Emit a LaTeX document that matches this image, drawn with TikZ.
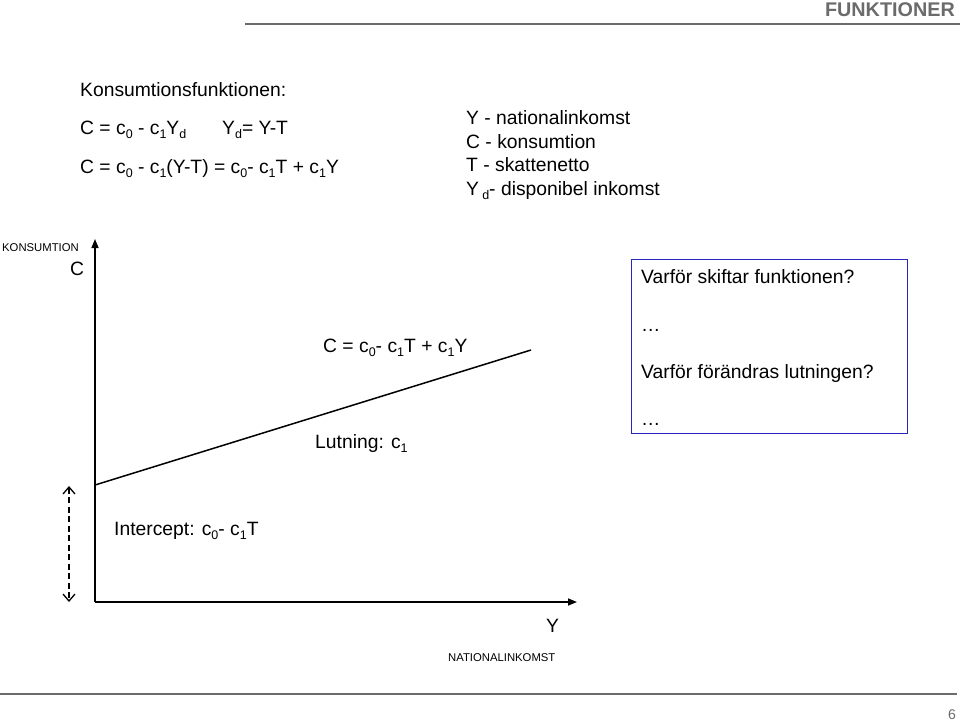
\documentclass[tikz,border=0pt]{standalone}
\usepackage{fontspec}
\setmainfont{Liberation Sans}
\usetikzlibrary{arrows.meta}

\definecolor{framegray}{gray}{0.42}
\definecolor{boxblue}{RGB}{40,40,190}
\newcommand\sub[1]{\raisebox{-0.22em}{\fontsize{12.5}{14}\selectfont #1}}

\tikzset{
  txt/.style={anchor=base west,inner sep=0pt,font=\fontsize{19.3}{23}\selectfont},
  smalltxt/.style={anchor=base west,inner sep=0pt,font=\fontsize{11.3}{13}\selectfont},
  axis/.style={line width=1.5pt,-{Triangle[length=9pt,width=7pt]}},
  barb/.tip={Straight Barb[length=7pt,width=12pt,line width=1.3pt]},
}

\begin{document}
\begin{tikzpicture}[x=1pt,y=-1pt]
  \useasboundingbox (0,0) rectangle (960,721);
  % header and footer
  \node[anchor=base east,inner sep=0pt,text=framegray,font=\fontsize{19.8}{23}\selectfont\bfseries] (title) at (955,16) {FUNKTIONER};
  \coordinate (hl) at (245,24);
  \coordinate (hr) at (960,24);
  \draw[framegray,line width=2pt] (hl) -- (hr);
  \coordinate (fl) at (0,694);
  \coordinate (fr) at (957,694);
  \draw[framegray,line width=2pt] (fl) -- (fr);
  \node[anchor=base east,inner sep=0pt,text=framegray,font=\fontsize{14}{16}\selectfont] (page) at (956,719) {6};

  % equations
  \node[txt] (head) at (80,96) {Konsumtionsfunktionen:};
  \node[txt] (eq1) at (80,134) {C = c\sub0 - c\sub1Y\sub d};
  \node[txt] (eqyd) at (222,134) {Y\sub d= Y-T};
  \node[txt] (eq2) at (80,173) {C = c\sub0 - c\sub1(Y-T) = c\sub0- c\sub1T + c\sub1Y};

  % legend
  \node[txt] (lgy) at (466,124) {Y - nationalinkomst};
  \node[txt] (lgc) at (466,148) {C - konsumtion};
  \node[txt] (lgt) at (466,171) {T - skattenetto};
  \node[txt] (lgd) at (466,195) {Y\,\sub d- disponibel inkomst};

  % axes
  \coordinate (O) at (95,602);
  \coordinate (ytip) at (95,239);
  \coordinate (xtip) at (577,602);
  \draw[axis] (O) -- (ytip);
  \draw[axis] (O) -- (xtip);
  \node[smalltxt] (ylab) at (2,251) {KONSUMTION};
  \node[txt] (ysym) at (70,275) {C};
  \node[txt] (xsym) at (546,632) {Y};
  \node[smalltxt] (xlab) at (448,661) {NATIONALINKOMST};

  % consumption line
  \coordinate (cstart) at (95,485);
  \coordinate (cend) at (531,350);
  \draw[line width=1.5pt] (cstart) -- (cend);
  \node[txt] (cfun) at (323,352) {C = c\sub0- c\sub1T + c\sub1Y};
  \node[txt] (slope) at (315,448) {Lutning: c\sub1};

  % intercept
  \coordinate (itop) at (69,486);
  \coordinate (ibot) at (69,602);
  \draw[line width=1.3pt,dash pattern=on 6pt off 3.5pt,{barb}-{barb}] (itop) -- (ibot);
  \node[txt] (icpt) at (114,535) {Intercept: c\sub0- c\sub1T};

  % questions
  \node[draw=boxblue,line width=1.3pt,inner sep=0pt,minimum width=276pt,minimum height=174pt,anchor=north west] (qbox) at (631,259) {};
  \node[txt] (q1) at (641,283) {Varför skiftar funktionen?};
  \node[txt] (a1) at (641,331) {…};
  \node[txt] (q2) at (641,378) {Varför förändras lutningen?};
  \node[txt] (a2) at (641,425) {…};
\end{tikzpicture}
\end{document}
